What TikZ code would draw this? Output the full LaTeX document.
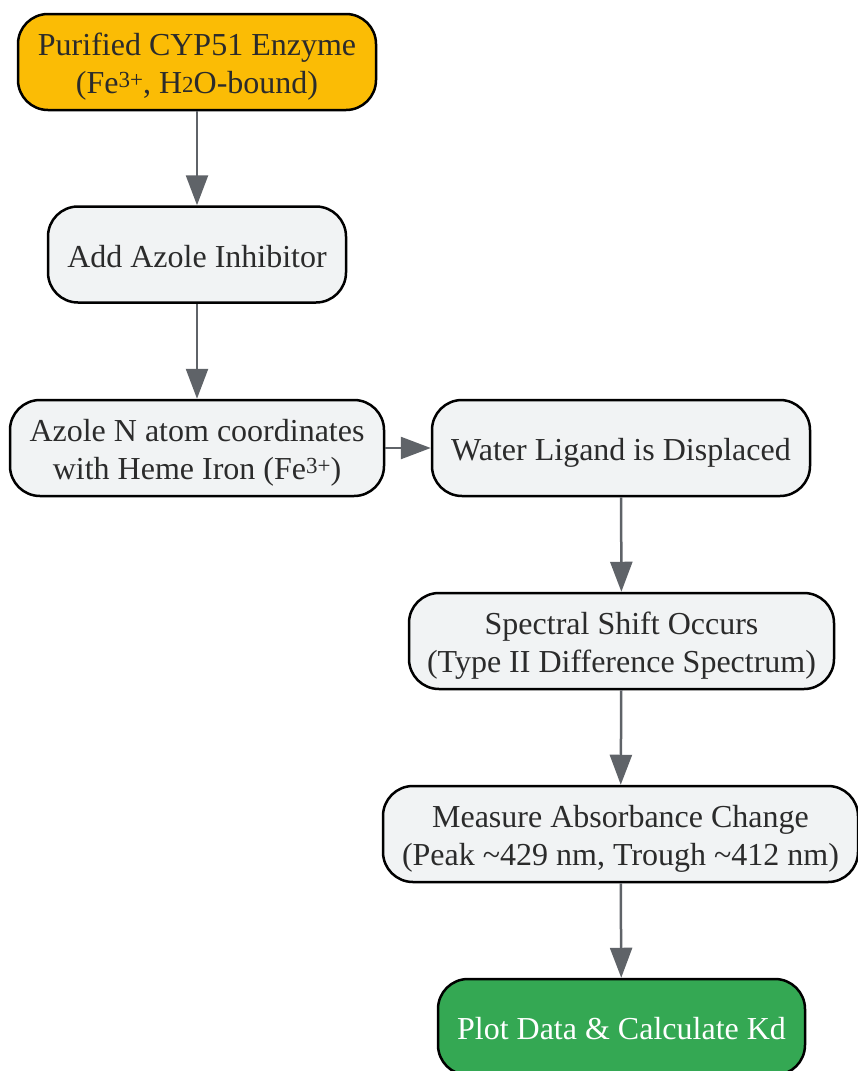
\documentclass[tikz,border=0pt]{standalone}
\usepackage{fontspec}
\setmainfont{Liberation Serif}
\usetikzlibrary{arrows.meta}
\definecolor{boxfill}{HTML}{F1F3F4}
\definecolor{orangefill}{HTML}{FBBC05}
\definecolor{greenfill}{HTML}{34A853}
\definecolor{arrowgray}{HTML}{5F6368}
\definecolor{textdark}{HTML}{2B2B2B}
\newcommand{\supthree}{\raisebox{6pt}{\fontsize{23}{23}\selectfont 3+}}
\newcommand{\subtwo}{\raisebox{1pt}{\fontsize{23}{23}\selectfont 2}}
\newcommand{\lbl}[1]{\raisebox{-5pt}[\height][\depth]{\begin{tabular}{@{}c@{}}#1\end{tabular}}}
\tikzset{
  stepbox/.style={draw=black, line width=2.5pt, rounded corners=30pt, fill=boxfill,
    text=textdark, inner sep=0pt, minimum height=96pt,
    font=\fontsize{32}{38}\selectfont},
  flow/.style={draw=arrowgray, line width=2.5pt, -{Triangle[length=30pt,width=22pt]}},
}
\begin{document}
\begin{tikzpicture}[x=1pt,y=-1pt]
\useasboundingbox (0,0) rectangle (857,1071);
\node[stepbox, fill=orangefill, minimum width=358pt] (n1) at (197,62) {\lbl{Purified CYP51 Enzyme\\(Fe\supthree, H\subtwo O-bound)}};
\node[stepbox, minimum width=298pt] (n2) at (197,254.5) {\lbl{Add Azole Inhibitor}};
\node[stepbox, minimum width=374pt] (n3) at (197,448) {\lbl{Azole N atom coordinates\\with Heme Iron (Fe\supthree)}};
\node[stepbox, minimum width=378pt] (n4) at (621,448) {\lbl{Water Ligand is Displaced}};
\node[stepbox, minimum width=425pt] (n5) at (621.5,641) {\lbl{Spectral Shift Occurs\\(Type II Difference Spectrum)}};
\node[stepbox, minimum width=475pt] (n6) at (620.5,834) {\lbl{Measure Absorbance Change\\(Peak \textasciitilde 429 nm, Trough \textasciitilde 412 nm)}};
\node[stepbox, fill=greenfill, text=white, minimum width=367pt] (n7) at (621.5,1027) {\lbl{Plot Data \& Calculate Kd}};
\draw[flow] (n1) -- (n2);
\draw[flow] (n2) -- (n3);
\draw[flow] (n3) -- (n4);
\draw[flow] (n4) -- (n5);
\draw[flow] (n5) -- (n6);
\draw[flow] (n6) -- (n7);
\end{tikzpicture}
\end{document}
